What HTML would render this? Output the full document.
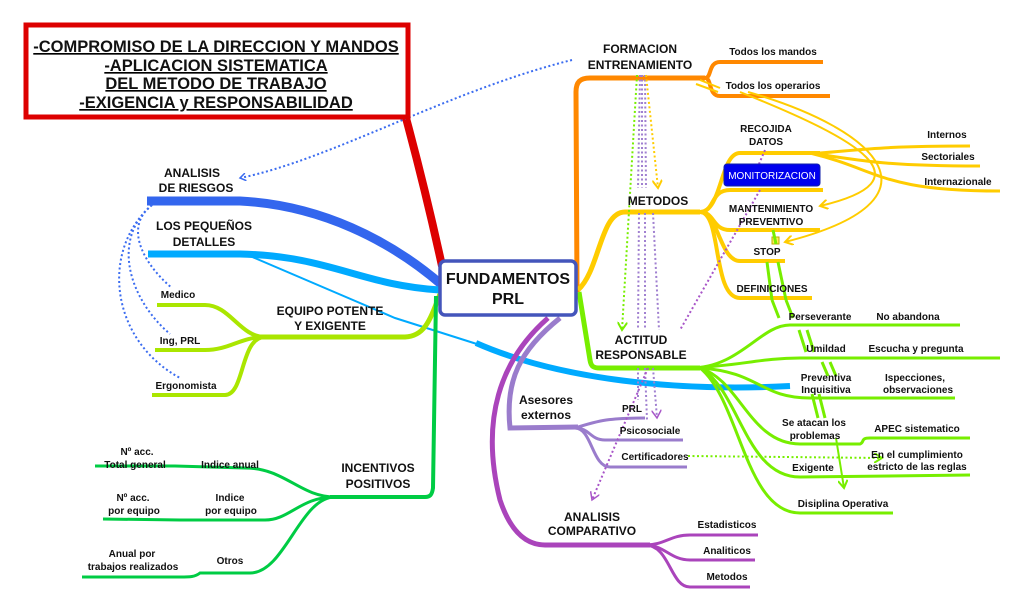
<!DOCTYPE html>
<html><head><meta charset="utf-8"><style>
html,body{margin:0;padding:0;background:#fff;width:1024px;height:608px;overflow:hidden}
svg text{font-family:"Liberation Sans",Arial,sans-serif;font-weight:bold;fill:#111}
</style></head><body>
<svg width="1024" height="608" viewBox="0 0 1024 608" xmlns="http://www.w3.org/2000/svg">
<defs>
<marker id="ab" markerWidth="8" markerHeight="8" refX="6" refY="4" orient="auto" markerUnits="userSpaceOnUse"><path d="M0,0 L6,4 L0,8" fill="none" stroke="#3b6cf0" stroke-width="1.5"/></marker>
<marker id="ay" markerWidth="10" markerHeight="10" refX="8" refY="5" orient="auto" markerUnits="userSpaceOnUse"><path d="M0,0 L8,5 L0,10" fill="none" stroke="#ffcc00" stroke-width="2"/></marker>
<marker id="ag" markerWidth="10" markerHeight="10" refX="8" refY="5" orient="auto" markerUnits="userSpaceOnUse"><path d="M0,0 L8,5 L0,10" fill="none" stroke="#77ee00" stroke-width="2"/></marker>
<marker id="ap" markerWidth="10" markerHeight="10" refX="8" refY="5" orient="auto" markerUnits="userSpaceOnUse"><path d="M0,0 L8,5 L0,10" fill="none" stroke="#a855c8" stroke-width="1.5"/></marker>
</defs>
<g fill="none" stroke-linecap="butt">
<path d="M406,118 C420,170 432,220 442,266" stroke="#dd0000" stroke-width="8"/>
<path d="M147,201 L240,201 C320,205 390,240 442,285" stroke="#3366ee" stroke-width="9"/>
<path d="M148,254 L240,254 C330,256 360,285 440,290" stroke="#00aaff" stroke-width="7"/>
<path d="M250,256 L395,318 L480,345" stroke="#00aaff" stroke-width="2"/>
<path d="M476,343 C560,380 680,392 790,386" stroke="#00aaff" stroke-width="6"/>
<path d="M440,294 C430,320 425,336 405,337 L260,337" stroke="#aae600" stroke-width="5"/>
<path d="M265,337 C240,337 230,305 205,305 L157,305" stroke="#aae600" stroke-width="4"/>
<path d="M265,337 C240,337 230,350 205,350 L155,350" stroke="#aae600" stroke-width="4"/>
<path d="M265,337 C240,337 245,395 225,395 L152,395" stroke="#aae600" stroke-width="4"/>
<path d="M436,296 L433,488 C432,495 430,497 425,497 L330,497" stroke="#00cc44" stroke-width="4"/>
<path d="M335,497 C300,497 285,468 245,468 L175,466 L95,466" stroke="#00cc44" stroke-width="3"/>
<path d="M335,497 C300,497 290,520 265,520 L180,520 L103,519" stroke="#00cc44" stroke-width="3"/>
<path d="M335,497 C300,497 285,573 250,573 L200,573 C195,577 190,577 180,577 L82,577" stroke="#00cc44" stroke-width="3"/>
<path d="M577,292 L576,92 C576,82 580,78 590,78 L705,78" stroke="#ff8800" stroke-width="5"/>
<path d="M705,78 C712,78 708,62 720,62 L823,62" stroke="#ff8800" stroke-width="4"/>
<path d="M705,78 C712,78 708,96 720,96 L830,96" stroke="#ff8800" stroke-width="4"/>
<path d="M578,290 C600,270 600,212 625,212 L700,212" stroke="#ffcc00" stroke-width="5"/>
<path d="M700,212 C722,212 720,153 740,153 L820,153" stroke="#ffcc00" stroke-width="4"/>
<path d="M820,153 C860,150 880,146 970,146" stroke="#ffcc00" stroke-width="3"/>
<path d="M810,153 C860,160 880,166 980,166" stroke="#ffcc00" stroke-width="3"/>
<path d="M810,153 C880,170 880,191 1000,191" stroke="#ffcc00" stroke-width="3"/>
<path d="M700,212 C715,212 710,190 730,190 L823,190" stroke="#ffcc00" stroke-width="4"/>
<path d="M700,212 C715,212 712,230 730,230 L820,230" stroke="#ffcc00" stroke-width="4"/>
<path d="M700,212 C718,212 720,261 740,261 L785,261" stroke="#ffcc00" stroke-width="4"/>
<path d="M700,212 C722,212 712,298 740,298 L812,298" stroke="#ffcc00" stroke-width="4"/>
<path d="M740,92 C860,140 930,180 820,206" stroke="#ffcc00" stroke-width="2" marker-end="url(#ay)"/>
<path d="M748,92 C880,130 950,200 785,242" stroke="#ffcc00" stroke-width="2" marker-end="url(#ay)"/>
<path d="M700,80 L720,88" stroke="#ffcc00" stroke-width="2"/>
<path d="M696,84 L718,92" stroke="#ffcc00" stroke-width="2"/>
<rect x="772" y="237" width="7" height="7" fill="#ffee55" stroke="#bbaa00"/>
<path d="M579,292 L590,360 C591,367 594,368 600,368 L700,368" stroke="#77ee00" stroke-width="5"/>
<path d="M690,368 C740,368 760,325 790,325 L960,325" stroke="#77ee00" stroke-width="3"/>
<path d="M690,368 C740,366 760,358 800,358 L1000,358" stroke="#77ee00" stroke-width="3"/>
<path d="M700,368 C760,372 760,398 810,398 L955,398" stroke="#77ee00" stroke-width="3"/>
<path d="M700,368 C740,380 750,444 800,444 L860,444 C865,442 860,438 870,438 L970,438" stroke="#77ee00" stroke-width="3"/>
<path d="M700,368 C740,390 745,477 800,477 L970,475" stroke="#77ee00" stroke-width="3"/>
<path d="M700,368 C740,400 745,513 800,513 L893,513" stroke="#77ee00" stroke-width="3"/>
<path d="M773,230 L776,244 M767,262 L772,300 M778,262 L786,300 M772,300 L779,318 M786,300 L793,318 M799,330 L806,352 M807,330 L814,352 M822,362 L828,376 M830,362 L836,376 M812,394 L818,418 M819,394 L825,418" stroke="#77ee00" stroke-width="3"/>
<path d="M836,438 L844,488" stroke="#77ee00" stroke-width="2" marker-end="url(#ag)"/>
<path d="M560,318 C520,350 505,380 510,428 L578,427" stroke="#9a7ccc" stroke-width="5"/>
<path d="M575,428 C600,420 610,418 645,418" stroke="#9a7ccc" stroke-width="3"/>
<path d="M575,428 C590,428 590,440 605,440 L683,440" stroke="#9a7ccc" stroke-width="3"/>
<path d="M575,428 C592,428 592,467 610,467 L687,467" stroke="#9a7ccc" stroke-width="3"/>
<path d="M548,318 C500,360 480,420 500,500 C510,530 525,545 545,545 L650,545" stroke="#aa44bb" stroke-width="5"/>
<path d="M645,545 C665,545 670,535 690,535 L758,535" stroke="#aa44bb" stroke-width="3"/>
<path d="M645,545 C665,545 670,560 690,560 L755,560" stroke="#aa44bb" stroke-width="3"/>
<path d="M645,545 C670,545 670,587 690,587 L750,587" stroke="#aa44bb" stroke-width="3"/>
<g stroke-dasharray="2,2.5" stroke-width="2">
<path d="M572,60 C450,90 330,160 240,178" stroke="#3b6cf0" marker-end="url(#ab)"/>
<path d="M152,205 C120,230 150,270 172,288" stroke="#3b6cf0"/>
<path d="M152,205 C110,240 130,300 170,334" stroke="#3b6cf0"/>
<path d="M152,205 C100,250 110,340 180,378" stroke="#3b6cf0"/>
<path d="M637,75 L622,330" stroke="#77ee00" marker-end="url(#ag)"/>
<path d="M640,75 L638,188 M642,75 L642,188 M645,75 L646,188" stroke="#a080d0"/>
<path d="M646,75 L658,188" stroke="#ffcc00" marker-end="url(#ay)"/>
<path d="M639,213 L638,330 M645,213 L645,330 M653,213 L659,330" stroke="#a080d0"/>
<path d="M638,368 L638,400 M645,368 L647,420 M653,368 L657,418" stroke="#a080d0" marker-end="url(#ap)"/>
<path d="M765,150 L750,185 M760,190 L680,330" stroke="#a855c8"/>
<path d="M648,368 L592,500" stroke="#a855c8" marker-end="url(#ap)"/>
<path d="M688,456 L882,458" stroke="#77ee00" marker-end="url(#ag)"/>
</g>
</g>
<rect x="26" y="25" width="382" height="92" fill="#fff" stroke="#dd0000" stroke-width="5"/>
<g font-size="16.5" text-anchor="middle" text-decoration="underline">
<text x="216" y="52">-COMPROMISO DE LA DIRECCION  Y MANDOS</text>
<text x="216" y="71">-APLICACION SISTEMATICA </text>
<text x="216" y="89">DEL METODO DE TRABAJO</text>
<text x="216" y="108">-EXIGENCIA y RESPONSABILIDAD</text>
</g>
<rect x="440" y="261" width="136" height="54" rx="5" fill="#fff" stroke="#4455bb" stroke-width="3.5"/>
<text x="508" y="284" font-size="16" text-anchor="middle">FUNDAMENTOS</text>
<text x="508" y="304" font-size="16" text-anchor="middle">PRL</text>
<rect x="724" y="164" width="96" height="22" rx="3" fill="#0000ee" stroke="#1122aa"/>
<text x="772" y="179" font-size="10" text-anchor="middle" style="fill:#fff;font-weight:normal">MONITORIZACION</text>
<g font-size="12" text-anchor="middle">
<text x="192" y="177">ANALISIS</text><text x="196" y="192">DE RIESGOS</text>
<text x="204" y="230">LOS PEQUEÑOS</text><text x="204" y="246">DETALLES</text>
<text x="330" y="315">EQUIPO POTENTE</text><text x="330" y="330">Y EXIGENTE</text>
<text x="378" y="472">INCENTIVOS</text><text x="378" y="488">POSITIVOS</text>
<text x="640" y="53">FORMACION</text><text x="640" y="69">ENTRENAMIENTO</text>
<text x="658" y="205">METODOS</text>
<text x="641" y="344">ACTITUD</text><text x="641" y="359">RESPONSABLE</text>
<text x="546" y="404">Asesores</text><text x="546" y="419">externos</text>
<text x="592" y="521">ANALISIS</text><text x="592" y="535">COMPARATIVO</text>
</g>
<g font-size="10" text-anchor="middle">
<text x="178" y="298">Medico</text><text x="180" y="344">Ing, PRL</text><text x="186" y="389">Ergonomista</text>
<text x="137" y="455">Nº  acc.</text><text x="135" y="468">Total  general</text>
<text x="230" y="468">Indice anual</text>
<text x="133" y="501">Nº acc.</text><text x="134" y="514">por equipo</text>
<text x="230" y="501">Indice</text><text x="231" y="514">por equipo</text>
<text x="132" y="557">Anual  por</text><text x="133" y="570">trabajos realizados</text>
<text x="230" y="564">Otros</text>
<text x="773" y="55">Todos los mandos</text><text x="773" y="89">Todos los operarios</text>
<text x="766" y="132">RECOJIDA</text><text x="766" y="145">DATOS</text>
<text x="947" y="138">Internos</text><text x="948" y="160">Sectoriales</text><text x="958" y="185">Internazionale</text>
<text x="771" y="212">MANTENIMIENTO</text><text x="771" y="225">PREVENTIVO</text>
<text x="767" y="255">STOP</text><text x="772" y="292">DEFINICIONES</text>
<text x="820" y="320">Perseverante</text><text x="908" y="320">No abandona</text>
<text x="826" y="352">Umildad</text><text x="916" y="352">Escucha y pregunta</text>
<text x="826" y="381">Preventiva</text><text x="826" y="393">Inquisitiva</text>
<text x="915" y="381">Ispecciones,</text><text x="918" y="393">observaciones</text>
<text x="814" y="426">Se atacan los</text><text x="815" y="439">problemas</text>
<text x="917" y="432">APEC sistematico</text>
<text x="917" y="458">En el cumplimiento</text><text x="917" y="470">estricto de las reglas</text>
<text x="813" y="471">Exigente</text><text x="843" y="507">Disiplina Operativa</text>
<text x="632" y="412">PRL</text><text x="650" y="434">Psicosociale</text><text x="655" y="460">Certificadores</text>
<text x="727" y="528">Estadisticos</text><text x="727" y="554">Analiticos</text><text x="727" y="580">Metodos</text>
</g>
</svg>
</body></html>
